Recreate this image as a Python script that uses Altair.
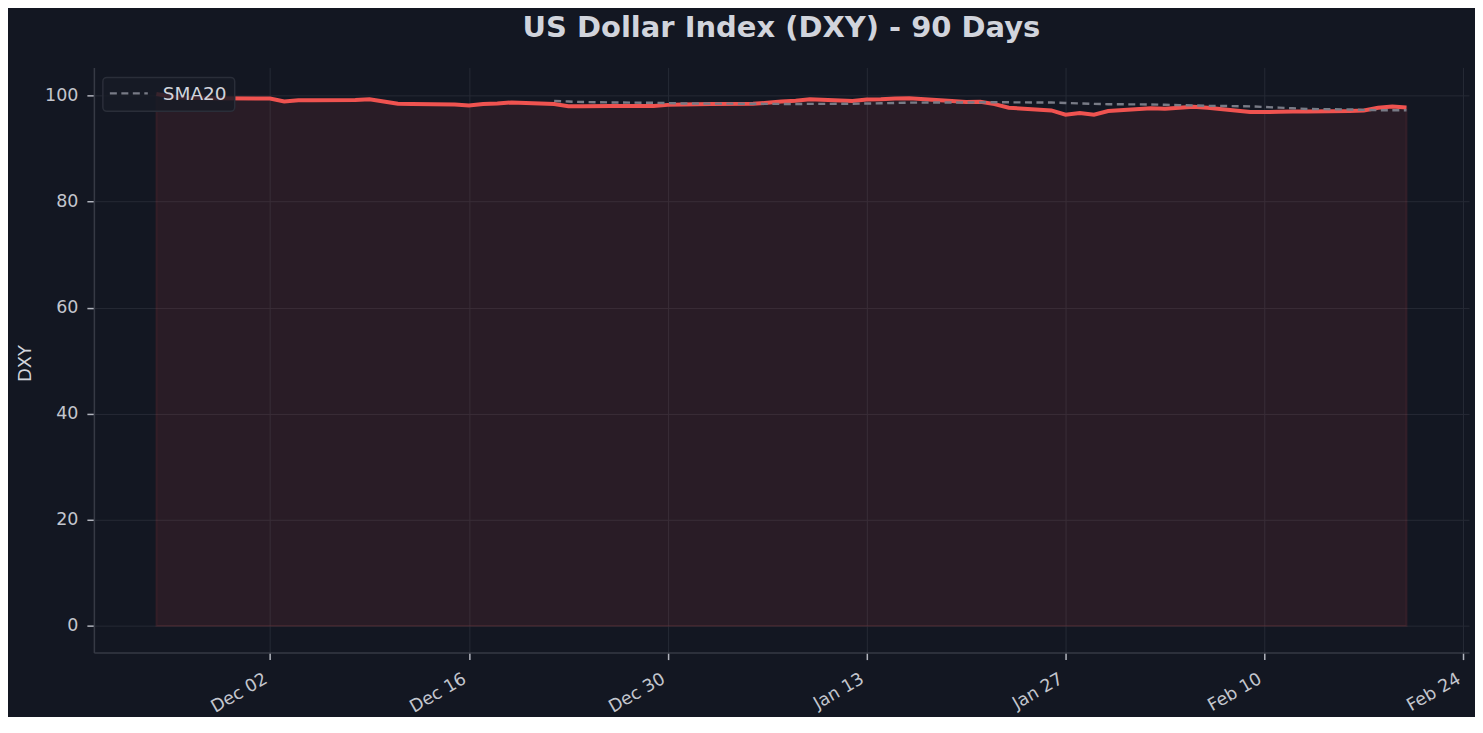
import altair as alt
import pandas as pd

# ---- data ----
dates = [
    "2025-11-24", "2025-11-25", "2025-11-26", "2025-11-28",
    "2025-12-01", "2025-12-02", "2025-12-03", "2025-12-04", "2025-12-05",
    "2025-12-08", "2025-12-09", "2025-12-10", "2025-12-11", "2025-12-12",
    "2025-12-15", "2025-12-16", "2025-12-17", "2025-12-18", "2025-12-19",
    "2025-12-22", "2025-12-23", "2025-12-24", "2025-12-26",
    "2025-12-29", "2025-12-30", "2025-12-31", "2026-01-02",
    "2026-01-05", "2026-01-06", "2026-01-07", "2026-01-08", "2026-01-09",
    "2026-01-12", "2026-01-13", "2026-01-14", "2026-01-15", "2026-01-16",
    "2026-01-19", "2026-01-20", "2026-01-21", "2026-01-22", "2026-01-23",
    "2026-01-26", "2026-01-27", "2026-01-28", "2026-01-29", "2026-01-30",
    "2026-02-02", "2026-02-03", "2026-02-04", "2026-02-05", "2026-02-06",
    "2026-02-09", "2026-02-10", "2026-02-11", "2026-02-12", "2026-02-13",
    "2026-02-16", "2026-02-17", "2026-02-18", "2026-02-19", "2026-02-20",
]
dxy = [
    100.3, 99.85, 99.6, 99.5,
    99.45, 99.45, 98.9, 99.1, 99.1,
    99.15, 99.3, 98.9, 98.45, 98.4,
    98.3, 98.15, 98.4, 98.5, 98.7,
    98.4, 98.0, 98.0, 98.05,
    98.05, 98.25, 98.3, 98.4,
    98.45, 98.65, 98.9, 99.05, 99.3,
    99.0, 99.25, 99.3, 99.45, 99.5,
    99.0, 98.8, 98.85, 98.4, 97.7,
    97.2, 96.4, 96.7, 96.4, 97.1,
    97.6, 97.5, 97.7, 97.9, 97.7,
    96.9, 96.9, 96.95, 97.0, 97.0,
    97.1, 97.2, 97.7, 97.95, 97.75,
]
tick_dates = ["2025-12-02", "2025-12-16", "2025-12-30", "2026-01-13",
              "2026-01-27", "2026-02-10", "2026-02-24"]
y_ticks = [0, 20, 40, 60, 80, 100]
sma_label = "SMA20"
title_text = "US Dollar Index (DXY) - 90 Days"

# ---- styling ----
BG = "#131722"
TEXT = "#d1d4dc"
RED = "#ef5350"
GRAY = "#787b86"
FONT = "DejaVu Sans"

df = pd.DataFrame({"date": dates, "dxy": dxy})


def ms(s):
    return int(pd.Timestamp(s, tz="UTC").value // 10**6)


DAY = 86400000
x_domain = [ms(dates[0]) - 4.4 * DAY, ms(dates[-1]) + 4.4 * DAY]
tick_vals = [ms(d) for d in tick_dates]
y_min, y_max = 0.0, max(dxy)
y_domain = [y_min - 0.05 * (y_max - y_min), y_max + 0.05 * (y_max - y_min)]

x_enc = alt.X(
    "date:T",
    scale=alt.Scale(type="utc", domain=x_domain),
    axis=alt.Axis(
        values=tick_vals, format="%b %d", title=None,
        labelAngle=330, labelAlign="right", labelBaseline="top",
        labelPadding=10, labelOffset=-9, tickSize=7, labelFontSize=17.5,
    ),
)
y_enc = alt.Y(
    "dxy:Q",
    scale=alt.Scale(domain=y_domain, nice=False, zero=False),
    axis=alt.Axis(
        values=y_ticks, format="d", title="DXY",
        titleAngle=270, titleX=-68, titleY=296, titleBaseline="middle",
        titleAlign="center", titleFontSize=18, titleFontWeight="normal",
        labelPadding=9, tickSize=7, labelFontSize=17.5,
    ),
)

base = alt.Chart(df)

area = base.mark_area(
    fill=RED, fillOpacity=0.1, stroke=RED, strokeOpacity=0.1, strokeWidth=2
).encode(x=x_enc, y=y_enc, y2=alt.datum(0))

line = base.mark_line(color=RED, strokeWidth=4).encode(x="date:T", y="dxy:Q")

sma = base.transform_window(
    sma="mean(dxy)", idx="row_number()", frame=[-19, 0],
    sort=[alt.SortField("date")],
).transform_filter("datum.idx >= 20").mark_line(
    color=GRAY, strokeWidth=2.4, strokeDash=[7, 4.5]
).encode(x="date:T", y=alt.Y("sma:Q"))

one = alt.Data(values=[{"k": 1}])
leg_box = alt.Chart(one).mark_rect(
    fill="#171b26", fillOpacity=0.85, stroke="#2a2e39", strokeWidth=1.5,
    cornerRadius=4,
).encode(x=alt.value(9), x2=alt.value(141), y=alt.value(10), y2=alt.value(44))
leg_line = alt.Chart(one).mark_rule(
    color=GRAY, strokeWidth=2.4, strokeDash=[7, 4.5]
).encode(x=alt.value(16), x2=alt.value(54), y=alt.value(26))
leg_text = alt.Chart(one).mark_text(
    text=sma_label, align="left", baseline="middle", fontSize=18.5,
    color=TEXT, font=FONT,
).encode(x=alt.value(69), y=alt.value(27))

chart = alt.layer(area, line, sma, leg_box, leg_line, leg_text).properties(
    width=1377,
    height=586,
    background=BG,
    padding={"left": 86, "top": 59, "right": 6, "bottom": 64},
    autosize=alt.AutoSizeParams(type="none"),
    title=alt.TitleParams(
        text=title_text, fontSize=29, fontWeight="bold", color=TEXT,
        font=FONT, anchor="middle", baseline="alphabetic", offset=1,
    ),
).configure_view(
    stroke="transparent"
).configure_axis(
    labelFont=FONT, titleFont=FONT, labelColor="#c3c6ce", titleColor=TEXT,
    gridColor="#262a35", gridWidth=1, domainColor="#363a45", domainWidth=1.5,
    tickColor="#b2b5be", tickWidth=1.5,
)

chart.save("out.html", embed_options={"renderer": "svg", "actions": False})
